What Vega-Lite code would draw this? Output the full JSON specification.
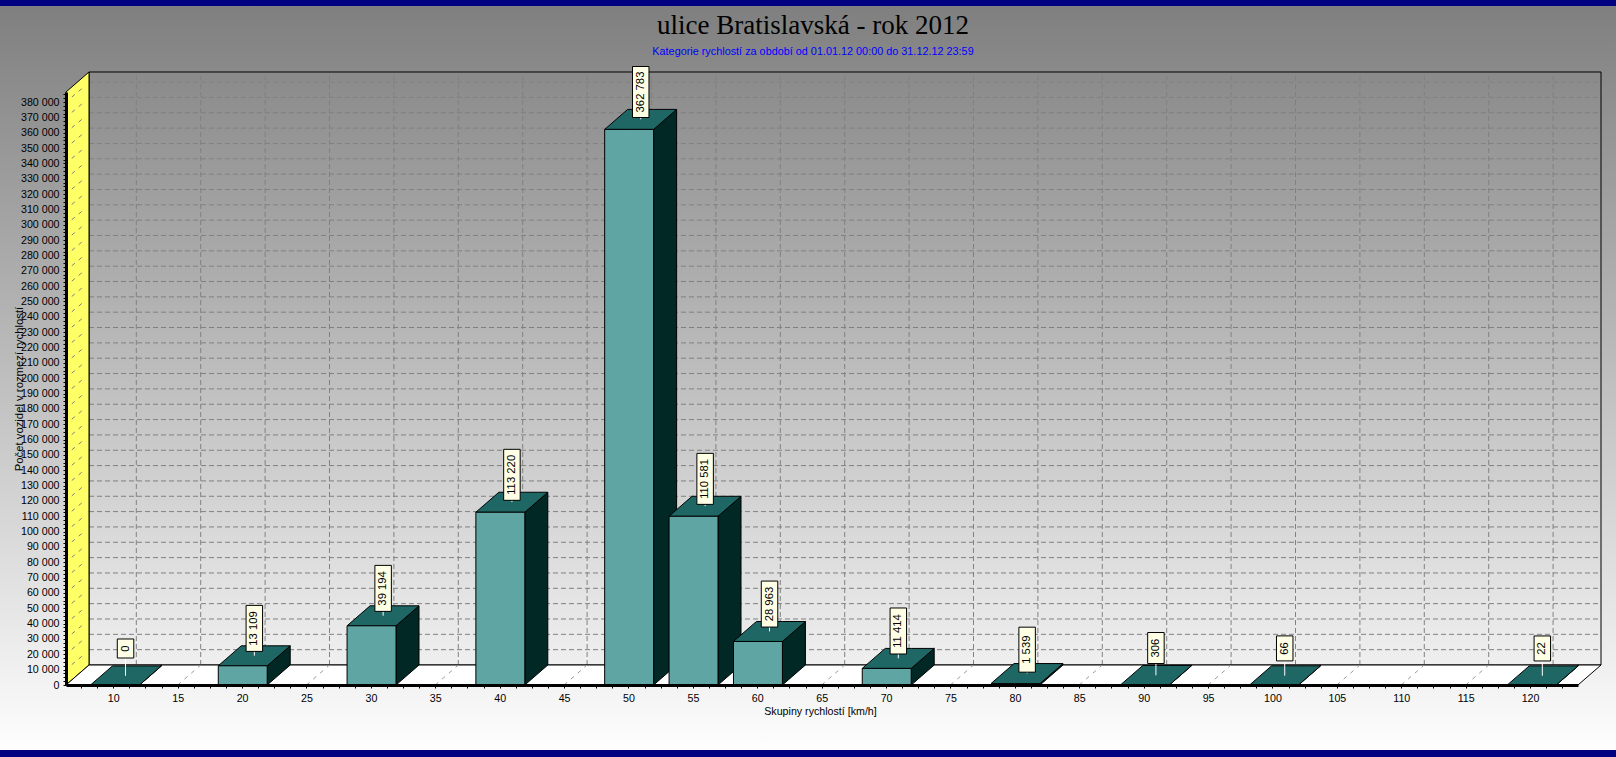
{
"$schema":"https://vega.github.io/schema/vega-lite/v6.json",
"width":1512,"height":593,
"autosize":{"type":"none"},
"padding":{"left":66,"right":38,"top":92,"bottom":72},
"background":"#ffffff",
"config":{"view":{"stroke":null},"font":"Liberation Sans"},
"title":{"text":"ulice Bratislavská - rok 2012","subtitle":"Kategorie rychlostí za období od 01.01.12 00:00 do 31.12.12 23:59","anchor":"middle","frame":"group","dx":-9,"offset":-58,"font":"Liberation Serif","fontSize":27,"fontWeight":"normal","color":"#000000","subtitleFont":"Liberation Sans","subtitleFontSize":10.85,"subtitleColor":"#0000ff","subtitlePadding":6},
"datasets":{
"bars":[{"speed":10,"count":0},{"speed":20,"count":13109},{"speed":30,"count":39194},{"speed":40,"count":113220},{"speed":50,"count":362783},{"speed":55,"count":110581},{"speed":60,"count":28963},{"speed":70,"count":11414},{"speed":80,"count":1539},{"speed":90,"count":306},{"speed":100,"count":66},{"speed":120,"count":22}],
"one":[{"k":0}],
"two":[{"k":0},{"k":1}],
"four":[{"k":0},{"k":1},{"k":2},{"k":3}],
"yg":[{"v":10000},{"v":20000},{"v":30000},{"v":40000},{"v":50000},{"v":60000},{"v":70000},{"v":80000},{"v":90000},{"v":100000},{"v":110000},{"v":120000},{"v":130000},{"v":140000},{"v":150000},{"v":160000},{"v":170000},{"v":180000},{"v":190000},{"v":200000},{"v":210000},{"v":220000},{"v":230000},{"v":240000},{"v":250000},{"v":260000},{"v":270000},{"v":280000},{"v":290000},{"v":300000},{"v":310000},{"v":320000},{"v":330000},{"v":340000},{"v":350000},{"v":360000},{"v":370000},{"v":380000}],
"xg":[{"v":15},{"v":25},{"v":35},{"v":45},{"v":65},{"v":75},{"v":85},{"v":95},{"v":105},{"v":110},{"v":115},{"v":10},{"v":20},{"v":30},{"v":40},{"v":50},{"v":55},{"v":60},{"v":70},{"v":80},{"v":90},{"v":100},{"v":120}]
},
"encoding":{
"x":{"field":"x","type":"quantitative","scale":{"domain":[6.328,123.72],"nice":false,"zero":false},
"axis":{"zindex":2,"grid":false,"title":"Skupiny rychlostí [km/h]","titleFont":"Liberation Sans","titleFontSize":10.67,"titleFontWeight":"normal","titleColor":"#000000","titlePadding":4,"titleX":754,"labelFont":"Liberation Sans","labelFontSize":10.67,"labelColor":"#000000","labelPadding":5,"labelOverlap":false,"labelFlush":false,"tickSize":3,"tickColor":"#000000","domainColor":"#000000","domainWidth":3,"values":[7.5,8.75,10,11.25,12.5,13.75,15,16.25,17.5,18.75,20,21.25,22.5,23.75,25,26.25,27.5,28.75,30,31.25,32.5,33.75,35,36.25,37.5,38.75,40,41.25,42.5,43.75,45,46.25,47.5,48.75,50,51.25,52.5,53.75,55,56.25,57.5,58.75,60,61.25,62.5,63.75,65,66.25,67.5,68.75,70,71.25,72.5,73.75,75,76.25,77.5,78.75,80,81.25,82.5,83.75,85,86.25,87.5,88.75,90,91.25,92.5,93.75,95,96.25,97.5,98.75,100,101.25,102.5,103.75,105,106.25,107.5,108.75,110,111.25,112.5,113.75,115,116.25,117.5,118.75,120,121.25,122.5],"labelExpr":"datum.value % 5 == 0 ? format(datum.value,'d') : ''"}},
"y":{"field":"y","type":"quantitative","scale":{"domain":[0,386571],"nice":false,"zero":false},
"axis":{"zindex":2,"grid":false,"title":"Počet vozidel v rozmezí rychlostí","titleFont":"Liberation Sans","titleFontSize":11.3,"titleFontWeight":"normal","titleColor":"#000000","titleX":-47,"titleBaseline":"middle","labelFont":"Liberation Sans","labelFontSize":10.67,"labelColor":"#000000","labelPadding":4,"labelOverlap":false,"labelFlush":false,"tickSize":3,"tickColor":"#000000","domainColor":"#000000","domainWidth":3,"values":[0,2500,5000,7500,10000,12500,15000,17500,20000,22500,25000,27500,30000,32500,35000,37500,40000,42500,45000,47500,50000,52500,55000,57500,60000,62500,65000,67500,70000,72500,75000,77500,80000,82500,85000,87500,90000,92500,95000,97500,100000,102500,105000,107500,110000,112500,115000,117500,120000,122500,125000,127500,130000,132500,135000,137500,140000,142500,145000,147500,150000,152500,155000,157500,160000,162500,165000,167500,170000,172500,175000,177500,180000,182500,185000,187500,190000,192500,195000,197500,200000,202500,205000,207500,210000,212500,215000,217500,220000,222500,225000,227500,230000,232500,235000,237500,240000,242500,245000,247500,250000,252500,255000,257500,260000,262500,265000,267500,270000,272500,275000,277500,280000,282500,285000,287500,290000,292500,295000,297500,300000,302500,305000,307500,310000,312500,315000,317500,320000,322500,325000,327500,330000,332500,335000,337500,340000,342500,345000,347500,350000,352500,355000,357500,360000,362500,365000,367500,370000,372500,375000,377500,380000,382500,385000],"labelExpr":"datum.value % 10000 == 0 ? replace(format(datum.value,','),',',' ') : ''"}}
},
"layer":[
{"data":{"name":"one"},"transform":[{"calculate":"1.204","as":"x"},{"calculate":"126.67","as":"x2"},{"calculate":"-46937","as":"y"},{"calculate":"446546","as":"y2"}],
 "mark":{"type":"rect","color":{"gradient":"linear","x1":0,"y1":0,"x2":0,"y2":1,"stops":[{"offset":0,"color":"#7e7e7e"},{"offset":1,"color":"#ffffff"}]}},
 "encoding":{"x2":{"field":"x2"},"y2":{"field":"y2"}}},
{"data":{"name":"two"},"transform":[{"calculate":"1.204","as":"x"},{"calculate":"126.67","as":"x2"},{"calculate":"datum.k==0 ? 442635 : -42374","as":"y"},{"calculate":"datum.k==0 ? 446546 : -46937","as":"y2"}],
 "mark":{"type":"rect","color":"#000080"},
 "encoding":{"x2":{"field":"x2"},"y2":{"field":"y2"}}},
{"data":{"name":"yg"},"transform":[{"calculate":"8.114","as":"x"},{"calculate":"125.506","as":"x2"},{"calculate":"datum.v+13038","as":"y"}],
 "mark":{"type":"rule","color":"#808080","strokeWidth":1,"strokeDash":[5,3]},
 "encoding":{"x2":{"field":"x2"}}},
{"data":{"name":"xg"},"transform":[{"calculate":"datum.v+1.786","as":"x"},{"calculate":"13038","as":"y"},{"calculate":"399609","as":"y2"}],
 "mark":{"type":"rule","color":"#808080","strokeWidth":1,"strokeDash":[5,3]},
 "encoding":{"y2":{"field":"y2"}}},
{"data":{"name":"one"},"transform":[{"calculate":"8.114","as":"x"},{"calculate":"125.506","as":"x2"},{"calculate":"13038","as":"y"},{"calculate":"399609","as":"y2"}],
 "mark":{"type":"rect","fillOpacity":0,"stroke":"#000000","strokeWidth":1},
 "encoding":{"x2":{"field":"x2"},"y2":{"field":"y2"}}},
{"data":{"name":"two"},"transform":[{"calculate":"6.328+datum.k*1.786","as":"x"},{"calculate":"386571+datum.k*13038","as":"y"},{"calculate":"datum.k*13038","as":"y2"}],
 "mark":{"type":"area","color":"#ffff66","stroke":"#000000","strokeWidth":1},
 "encoding":{"y2":{"field":"y2"}}},
{"data":{"name":"four"},"transform":[{"calculate":"[6.328,8.114,123.72,125.506][datum.k]","as":"x"},{"calculate":"datum.k==3 ? 13038 : 0","as":"y"},{"calculate":"datum.k==0 ? 0 : 13038","as":"y2"}],
 "mark":{"type":"area","color":"#ffffff","stroke":"#000000","strokeWidth":1},
 "encoding":{"y2":{"field":"y2"}}},
{"data":{"name":"yg"},"transform":[{"calculate":"6.328+0.45","as":"x"},{"calculate":"8.114-0.3","as":"x2"},{"calculate":"datum.v+3280","as":"y"},{"calculate":"datum.v+13038-2520","as":"y2"}],
 "mark":{"type":"rule","color":"#808080","strokeWidth":1,"strokeDash":[4,5]},
 "encoding":{"x2":{"field":"x2"},"y2":{"field":"y2"}}},
{"data":{"name":"xg"},"transform":[{"calculate":"datum.v","as":"x"},{"calculate":"datum.v+1.786","as":"x2"},{"calculate":"0","as":"y"},{"calculate":"13038","as":"y2"}],
 "mark":{"type":"rule","color":"#999999","strokeWidth":1,"strokeDash":[4,5]},
 "encoding":{"x2":{"field":"x2"},"y2":{"field":"y2"}}},
{"data":{"name":"bars"},"transform":[{"calculate":"[0,1]","as":"k"},{"flatten":["k"]},{"calculate":"datum.speed+1.95+datum.k*1.786","as":"x"},{"calculate":"datum.count-600+datum.k*13038","as":"y"},{"calculate":"datum.k*13038","as":"y2"}],
 "mark":{"type":"area","color":"#022825","stroke":"#000000","strokeWidth":1},
 "encoding":{"y2":{"field":"y2"},"detail":{"field":"speed","type":"nominal"}}},
{"data":{"name":"bars"},"transform":[{"calculate":"[0,1,2,3]","as":"k"},{"flatten":["k"]},{"calculate":"datum.speed+[-1.85,-0.064,1.95,3.736][datum.k]","as":"x"},{"calculate":"datum.count-600+(datum.k==3 ? 13038 : 0)","as":"y"},{"calculate":"datum.count-600+(datum.k==0 ? 0 : 13038)","as":"y2"}],
 "mark":{"type":"area","color":"#1f6764","stroke":"#000000","strokeWidth":1},
 "encoding":{"y2":{"field":"y2"},"detail":{"field":"speed","type":"nominal"}}},
{"data":{"name":"bars"},"transform":[{"filter":"datum.count>5000"},{"calculate":"datum.speed-1.85","as":"x"},{"calculate":"datum.speed+1.95","as":"x2"},{"calculate":"datum.count-600","as":"y"},{"calculate":"0","as":"y2"}],
 "mark":{"type":"rect","color":"#5fa5a3","stroke":"#000000","strokeWidth":1},
 "encoding":{"x2":{"field":"x2"},"y2":{"field":"y2"}}},
{"data":{"name":"bars"},"transform":[{"calculate":"datum.speed+0.95","as":"x"},{"calculate":"datum.count+6000","as":"y"},{"calculate":"datum.count+6000+17275","as":"y2"}],
 "mark":{"type":"rule","color":"#ffffff","strokeWidth":1},
 "encoding":{"y2":{"field":"y2"}}},
{"data":{"name":"bars"},"transform":[{"calculate":"replace(format(datum.count,','),',',' ')","as":"label"},{"calculate":"[0,19,25,31,38,45,46,51][length(datum.label)]*651.9/2","as":"h"},{"calculate":"datum.count+23794-(length(datum.label)==5 ? 2300 : 0)","as":"c"},{"calculate":"datum.speed+0.95-0.64","as":"x"},{"calculate":"datum.speed+0.95+0.64","as":"x2"},{"calculate":"datum.c-datum.h","as":"y"},{"calculate":"datum.c+datum.h","as":"y2"}],
 "mark":{"type":"rect","color":"#ffffe6","stroke":"#000000","strokeWidth":1},
 "encoding":{"x2":{"field":"x2"},"y2":{"field":"y2"}}},
{"data":{"name":"bars"},"transform":[{"calculate":"replace(format(datum.count,','),',',' ')","as":"label"},{"calculate":"datum.speed+0.95","as":"x"},{"calculate":"datum.count+23794-(length(datum.label)==5 ? 2300 : 0)","as":"y"}],
 "mark":{"type":"text","angle":270,"align":"center","baseline":"middle","font":"Liberation Sans","fontSize":11.3,"color":"#000000"},
 "encoding":{"text":{"field":"label","type":"nominal"}}}
]
}
